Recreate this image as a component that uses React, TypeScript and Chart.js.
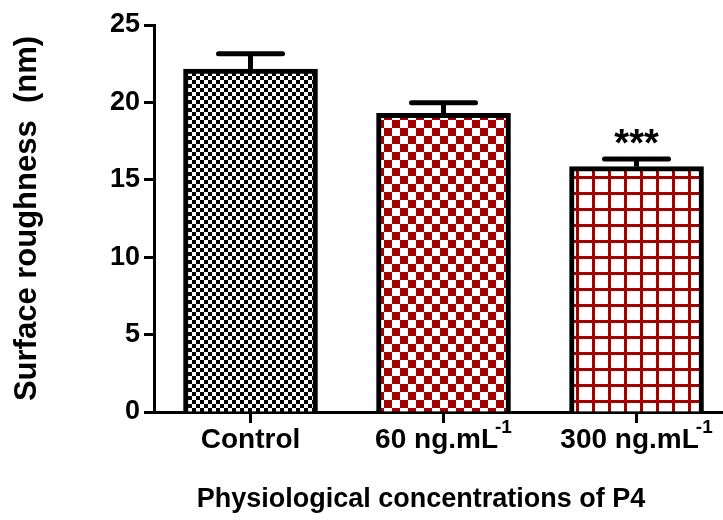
import React, { useEffect, useRef } from "react";
import { Chart, registerables } from "chart.js";

Chart.register(...registerables);

// ---- data ----
const categories = ["Control", "60 ng.mL", "300 ng.mL"];
const superscripts = ["", "-1", "-1"];
const means = [22.15, 19.3, 15.85];
const errorTops = [23.15, 19.98, 16.35];
const significance = ["", "", "***"];
const yTickValues = [0, 5, 10, 15, 20, 25];
const xTitle = "Physiological concentrations of P4";
const yTitle = "Surface roughness  (nm)";

const FONT = '"Liberation Sans", Arial, Helvetica, sans-serif';
const RED = "#a30000";

function makePattern(kind: string): CanvasPattern | string {
  const c = document.createElement("canvas");
  const ctx = c.getContext("2d");
  if (!ctx) return "#888";
  if (kind === "fine") {
    c.width = 8;
    c.height = 8;
    ctx.fillStyle = "#fff";
    ctx.fillRect(0, 0, 8, 8);
    ctx.fillStyle = "#000";
    ctx.fillRect(0, 0, 4, 4);
    ctx.fillRect(4, 4, 4, 4);
  } else if (kind === "checker") {
    c.width = 16;
    c.height = 16;
    ctx.fillStyle = "#fff";
    ctx.fillRect(0, 0, 16, 16);
    ctx.fillStyle = RED;
    ctx.fillRect(0, 0, 8, 8);
    ctx.fillRect(8, 8, 8, 8);
  } else {
    c.width = 16;
    c.height = 16;
    ctx.fillStyle = "#fff";
    ctx.fillRect(0, 0, 16, 16);
    ctx.fillStyle = RED;
    ctx.fillRect(0, 0, 3, 16);
    ctx.fillRect(0, 0, 16, 3);
  }
  const p = ctx.createPattern(c, "repeat");
  return p || "#888";
}

const annotationsPlugin = {
  id: "annotations",
  afterDatasetsDraw(chart: any) {
    const ctx: CanvasRenderingContext2D = chart.ctx;
    const xs = chart.scales.x;
    const ys = chart.scales.y;
    ctx.save();
    // error bars
    ctx.strokeStyle = "#000";
    ctx.lineWidth = 5;
    means.forEach((m, i) => {
      const x = xs.getPixelForValue(i);
      const yb = ys.getPixelForValue(m);
      const yt = ys.getPixelForValue(errorTops[i]);
      ctx.lineCap = "butt";
      ctx.beginPath();
      ctx.moveTo(x, yb);
      ctx.lineTo(x, yt);
      ctx.stroke();
      ctx.lineCap = "round";
      ctx.beginPath();
      ctx.moveTo(x - 32, yt);
      ctx.lineTo(x + 32, yt);
      ctx.stroke();
      if (significance[i]) {
        ctx.fillStyle = "#000";
        ctx.font = `bold 38px ${FONT}`;
        ctx.textAlign = "center";
        ctx.textBaseline = "alphabetic";
        ctx.fillText(significance[i], x, yt - 3);
      }
    });
    // x tick labels with superscripts
    ctx.fillStyle = "#000";
    ctx.textBaseline = "alphabetic";
    ctx.textAlign = "left";
    categories.forEach((label, i) => {
      const cx = xs.getPixelForValue(i);
      ctx.font = `bold 28px ${FONT}`;
      const w1 = ctx.measureText(label).width;
      ctx.font = `bold 19px ${FONT}`;
      const sup = superscripts[i];
      const w2 = sup ? ctx.measureText(sup).width - 3 : 0;
      const x0 = cx - (w1 + w2) / 2;
      ctx.font = `bold 28px ${FONT}`;
      ctx.fillText(label, x0, 448);
      if (sup) {
        ctx.font = `bold 19px ${FONT}`;
        ctx.fillText(sup, x0 + w1 - 3, 433);
      }
    });
    // x title
    ctx.font = `bold 27px ${FONT}`;
    ctx.textAlign = "center";
    ctx.fillText(xTitle, 421, 507);
    ctx.restore();
  },
};

export default function App() {
  const ref = useRef<HTMLCanvasElement | null>(null);

  useEffect(() => {
    if (!ref.current) return;
    const patterns = [makePattern("fine"), makePattern("checker"), makePattern("grid")];
    const chart = new Chart(ref.current, {
      type: "bar",
      data: {
        datasets: [
          {
            data: means.map((v, i) => ({ x: i, y: v })),
            backgroundColor: patterns as any,
            borderColor: "#000",
            borderWidth: 5,
            barThickness: 134,
          },
        ],
      },
      options: {
        animation: false,
        responsive: false,
        events: [],
        layout: { padding: { top: 25, right: 0, left: 0, bottom: 0 } },
        plugins: {
          legend: { display: false },
          tooltip: { enabled: false },
        },
        scales: {
          x: {
            type: "linear",
            min: -0.5,
            max: 2.448,
            offset: false,
            afterBuildTicks: (s: any) => {
              s.ticks = categories.map((_, i) => ({ value: i }));
            },
            afterFit: (s: any) => {
              s.height = 108;
            },
            ticks: { display: false },
            grid: {
              offset: false,
              drawOnChartArea: false,
              drawTicks: true,
              tickLength: 11,
              tickWidth: 3,
              tickColor: "#000",
            },
            border: { display: true, color: "#000", width: 3 },
          },
          y: {
            min: 0,
            max: 25,
            afterBuildTicks: (s: any) => {
              s.ticks = yTickValues.map((v) => ({ value: v }));
            },
            afterFit: (s: any) => {
              s.width = 154;
            },
            ticks: {
              color: "#000",
              padding: 4,
              font: { family: FONT, size: 27, weight: "bold" },
            },
            grid: {
              drawOnChartArea: false,
              drawTicks: true,
              tickLength: 10,
              tickWidth: 3,
              tickColor: "#000",
            },
            border: { display: true, color: "#000", width: 3 },
            title: {
              display: true,
              text: yTitle,
              color: "#000",
              font: { family: FONT, size: 31, weight: "bold" },
              padding: { top: 9, bottom: 0 },
            },
          },
        },
      },
      plugins: [annotationsPlugin],
    } as any);
    return () => chart.destroy();
  }, []);

  return (
    <div style={{ position: "absolute", left: 0, top: 0, width: 723, height: 520, background: "#fff" }}>
      <canvas ref={ref} width={723} height={520} style={{ display: "block", width: 723, height: 520 }} />
    </div>
  );
}
